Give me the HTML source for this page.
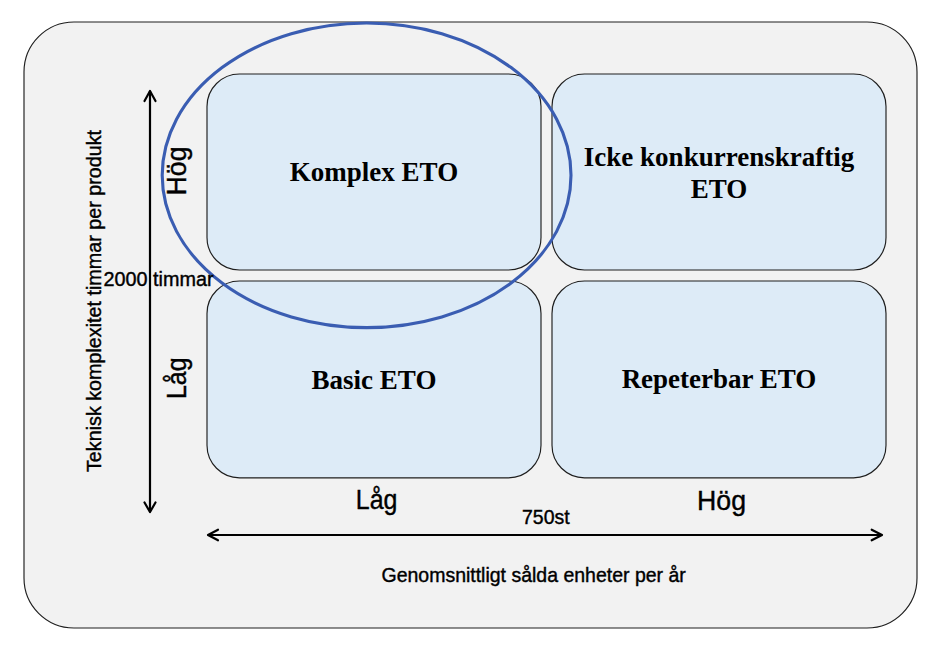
<!DOCTYPE html>
<html>
<head>
<meta charset="utf-8">
<style>
html,body{margin:0;padding:0;background:#fff;width:946px;height:650px;overflow:hidden;}
svg{display:block;}
.sans{font-family:"Liberation Sans",sans-serif;stroke:#000;stroke-width:0.4px;}
.serif{font-family:"Liberation Serif",serif;font-weight:bold;}
</style>
</head>
<body>
<svg width="946" height="650" viewBox="0 0 946 650">
  <!-- outer panel -->
  <rect x="24" y="22" width="893" height="606" rx="50" ry="50" fill="#f2f2f2" stroke="#1e1e1e" stroke-width="1.15"/>
  <!-- quadrant boxes -->
  <g fill="#ddebf7" stroke="#1e1e1e" stroke-width="1.15">
  <rect x="207" y="74" width="334" height="196" rx="32.5" ry="32.5"/>
  <rect x="552" y="74" width="334" height="196" rx="32.5" ry="32.5"/>
  <rect x="207" y="281" width="334" height="196.8" rx="32.5" ry="32.5"/>
  <rect x="552" y="281" width="334" height="196.8" rx="32.5" ry="32.5"/>
  </g>

  <!-- box texts -->
  <text class="serif" x="374" y="181" font-size="27" text-anchor="middle">Komplex ETO</text>
  <text class="serif" x="719" y="165.7" font-size="27" text-anchor="middle">Icke konkurrenskraftig</text>
  <text class="serif" x="719" y="197.8" font-size="27" text-anchor="middle">ETO</text>
  <text class="serif" x="374" y="389" font-size="27" text-anchor="middle">Basic ETO</text>
  <text class="serif" x="719" y="387.5" font-size="27" text-anchor="middle">Repeterbar ETO</text>

  <!-- vertical arrow -->
  <g stroke="#000" stroke-width="2.2" fill="none" stroke-linecap="round" stroke-linejoin="round">
    <line x1="150" y1="91.5" x2="150" y2="511.5"/>
    <polyline points="144.5,101 150,91 155.5,101"/>
    <polyline points="144.5,502.5 150,512 155.5,502.5"/>
    <line x1="208.5" y1="535" x2="881" y2="535"/>
    <polyline points="218,529.7 208,535 218,540.3"/>
    <polyline points="871.7,529.7 882,535 871.7,540.3"/>
  </g>

  <!-- side labels -->
  <text class="sans" transform="translate(186,195.5) rotate(-90)" font-size="27.6" textLength="49" lengthAdjust="spacingAndGlyphs">Hög</text>
  <text class="sans" transform="translate(186,399) rotate(-90)" font-size="27.6" textLength="41.6" lengthAdjust="spacingAndGlyphs">Låg</text>
  <text class="sans" transform="translate(100.5,472) rotate(-90)" font-size="19.8" textLength="342" lengthAdjust="spacingAndGlyphs">Teknisk komplexitet timmar per produkt</text>

  <text class="sans" x="355.8" y="508.8" font-size="27.6" textLength="41.6" lengthAdjust="spacingAndGlyphs">Låg</text>
  <text class="sans" x="697" y="509.6" font-size="27.6" textLength="49" lengthAdjust="spacingAndGlyphs">Hög</text>
  <text class="sans" x="522" y="523.8" font-size="19.6" textLength="47.6" lengthAdjust="spacingAndGlyphs">750st</text>
  <text class="sans" x="381.5" y="582.2" font-size="20.3" textLength="304.3" lengthAdjust="spacingAndGlyphs">Genomsnittligt sålda enheter per år</text>

  <!-- ellipse -->
  <ellipse cx="366.6" cy="175.3" rx="204.4" ry="152.3" fill="none" stroke="#3a5db2" stroke-width="3.1"/>
  <text class="sans" x="103.5" y="285.8" font-size="19.6" textLength="110" lengthAdjust="spacingAndGlyphs">2000 timmar</text>
</svg>
</body>
</html>
